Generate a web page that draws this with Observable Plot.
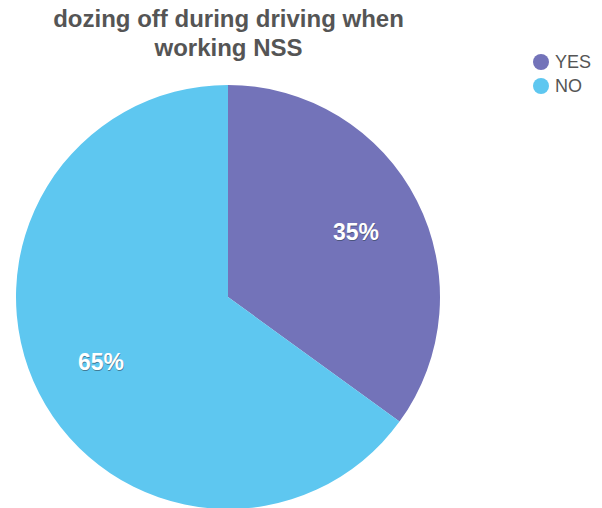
<!DOCTYPE html>
<html>
<head>
<meta charset="utf-8">
<script src="https://cdn.jsdelivr.net/npm/d3@7"></script>
<script src="https://cdn.jsdelivr.net/npm/@observablehq/plot@0.6"></script>
<style>
  html, body { margin: 0; padding: 0; background: #fff; }
  #wrap { position: relative; width: 602px; height: 508px; overflow: hidden; font-family: "Helvetica Neue", "Liberation Sans", Arial, sans-serif; }
  #title { position: absolute; left: 0; top: 4px; width: 457px; text-align: center; font-size: 24px; font-weight: bold; line-height: 29px; color: #555; }
  #legend { position: absolute; left: 533px; top: 50px; font-size: 18px; color: #555; }
  .item { display: flex; align-items: center; height: 24px; }
  .sw { width: 16px; height: 16px; border-radius: 50%; margin-right: 6px; }
  #chart { position: absolute; left: 0; top: 0; }
</style>
</head>
<body>
<div id="wrap">
  <div id="chart"></div>
  <div id="title">dozing off during driving when<br>working NSS</div>
  <div id="legend"></div>
</div>
<script>
const categories = ["YES", "NO"];
const values = [35, 65];
const colors = ["#7373B9", "#5EC7F0"];
const labels = ["35%", "65%"];

const data = categories.map((c, i) => ({label: c, value: values[i], text: labels[i]}));
const arcs = d3.pie().sort(null).value(d => d.value)(data);
const labelR = 0.675;
const labelData = arcs.map(a => {
  const m = (a.startAngle + a.endAngle) / 2;
  return {text: a.data.text, x: labelR * Math.sin(m), y: labelR * Math.cos(m)};
});
const color = d3.scaleOrdinal(categories, colors);

const pieMark = (index, scales) => {
  const cx = scales.x(0), cy = scales.y(0), r = scales.x(1) - scales.x(0);
  const g = d3.create("svg:g").attr("transform", `translate(${cx},${cy})`);
  const arc = d3.arc().innerRadius(0).outerRadius(r);
  g.selectAll("path").data(arcs).join("path")
    .attr("d", arc)
    .attr("fill", d => color(d.data.label));
  return g.node();
};

const labelFont = "Helvetica Neue, Liberation Sans, Arial, sans-serif";
const chart = Plot.plot({
  width: 602,
  height: 508,
  margin: 0,
  x: {domain: [-1, 1], range: [16, 440], axis: null},
  y: {domain: [-1, 1], range: [509, 85], axis: null},
  marks: [
    pieMark,
    Plot.text(labelData, {x: "x", y: "y", text: "text", fill: "#2a3a4a", fillOpacity: 0.55, dy: 1.5, dx: 0.5, fontSize: 23, fontWeight: "bold", fontFamily: labelFont}),
    Plot.text(labelData, {x: "x", y: "y", text: "text", fill: "#ffffff", fontSize: 23, fontWeight: "bold", fontFamily: labelFont})
  ]
});
document.getElementById("chart").appendChild(chart);

const legend = document.getElementById("legend");
categories.forEach((c, i) => {
  const item = document.createElement("div");
  item.className = "item";
  const sw = document.createElement("span");
  sw.className = "sw";
  sw.style.background = colors[i];
  const t = document.createElement("span");
  t.textContent = c;
  item.appendChild(sw);
  item.appendChild(t);
  legend.appendChild(item);
});
</script>
</body>
</html>
